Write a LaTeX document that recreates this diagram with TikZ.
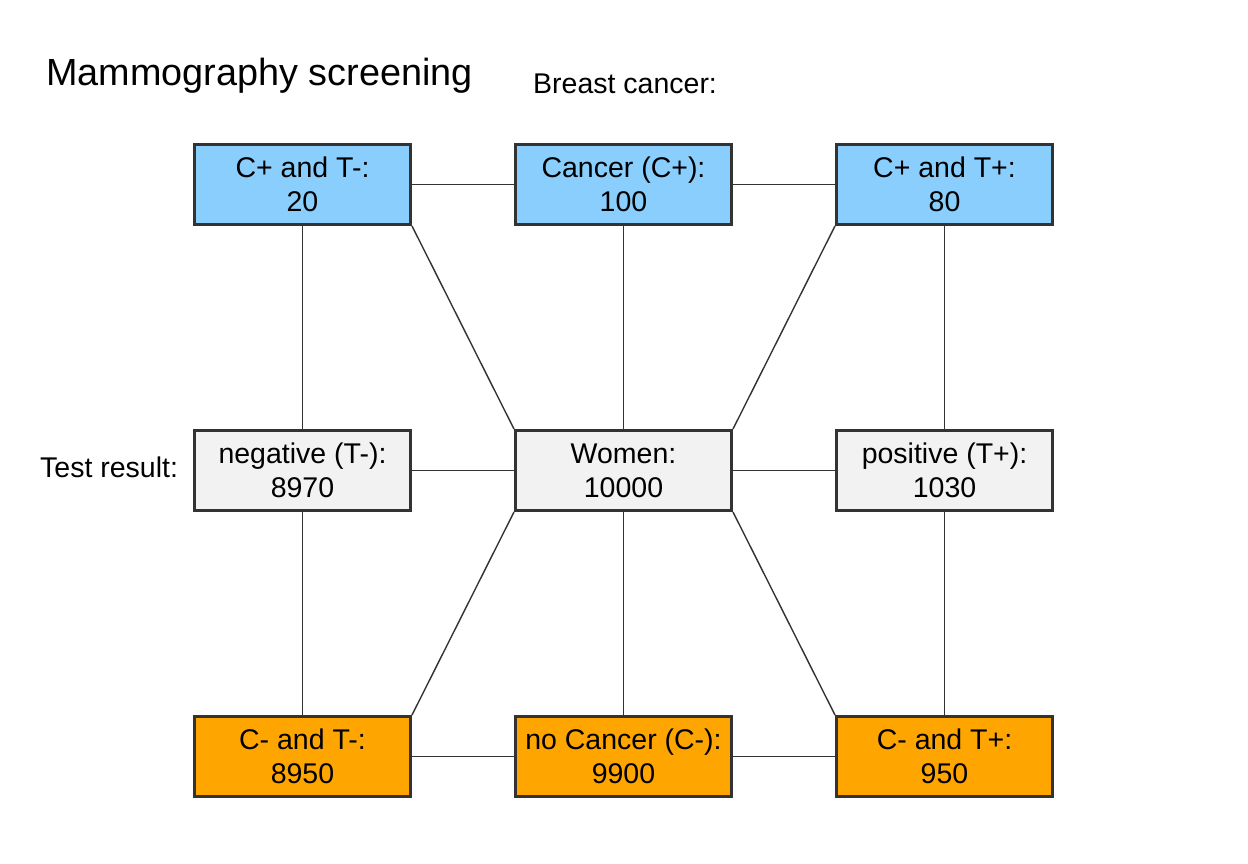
\documentclass[tikz,border=0pt]{standalone}
\usepackage{fontspec}
\setmainfont{Liberation Sans}
\definecolor{cblue}{HTML}{89CEFC}
\definecolor{corange}{HTML}{FFA500}
\definecolor{cgray}{HTML}{F2F2F2}
\definecolor{cline}{HTML}{333333}
\begin{document}
\begin{tikzpicture}[x=1pt,y=-1pt,
  box/.style={draw=cline,line width=3pt,minimum width=216pt,minimum height=80pt,inner sep=0pt,align=center,font=\fontsize{28.5}{34}\selectfont},
  bluebox/.style={box,fill=cblue},
  graybox/.style={box,fill=cgray},
  orangebox/.style={box,fill=corange},
  conn/.style={draw=cline,line width=1.4pt},
  lbl/.style={inner sep=0pt,font=\fontsize{28.5}{34}\selectfont}]
\useasboundingbox[fill=white] (0,0) rectangle (1248,864);
\node[bluebox] (tl) at (302.5,184.5) {C+ and T-:\\20};
\node[bluebox] (tm) at (623.5,184.5) {Cancer (C+):\\100};
\node[bluebox] (tr) at (944.5,184.5) {C+ and T+:\\80};
\node[graybox] (ml) at (302.5,470.5) {negative (T-):\\8970};
\node[graybox] (w) at (623.5,470.5) {Women:\\10000};
\node[graybox] (mr) at (944.5,470.5) {positive (T+):\\1030};
\node[orangebox] (bl) at (302.5,756.5) {C- and T-:\\8950};
\node[orangebox] (bm) at (623.5,756.5) {no Cancer (C-):\\9900};
\node[orangebox] (br) at (944.5,756.5) {C- and T+:\\950};
\begin{scope}[on background layer/.try]
\end{scope}
\draw[conn] (tl.east) -- (tm.west);
\draw[conn] (tm.east) -- (tr.west);
\draw[conn] (ml.east) -- (w.west);
\draw[conn] (w.east) -- (mr.west);
\draw[conn] (bl.east) -- (bm.west);
\draw[conn] (bm.east) -- (br.west);
\draw[conn] (tl.south) -- (ml.north);
\draw[conn] (ml.south) -- (bl.north);
\draw[conn] (tm.south) -- (w.north);
\draw[conn] (w.south) -- (bm.north);
\draw[conn] (tr.south) -- (mr.north);
\draw[conn] (mr.south) -- (br.north);
\draw[conn] (tl.south east) -- (w.north west);
\draw[conn] (tr.south west) -- (w.north east);
\draw[conn] (w.south west) -- (bl.north east);
\draw[conn] (w.south east) -- (br.north west);
\node[inner sep=0pt,anchor=base west,font=\fontsize{37.8}{44}\selectfont] (title) at (46,86) {Mammography screening};
\node[lbl,anchor=base west] (bc) at (533,94) {Breast cancer:};
\node[lbl,anchor=base west] (tres) at (40,477) {Test result:};
\end{tikzpicture}
\end{document}
